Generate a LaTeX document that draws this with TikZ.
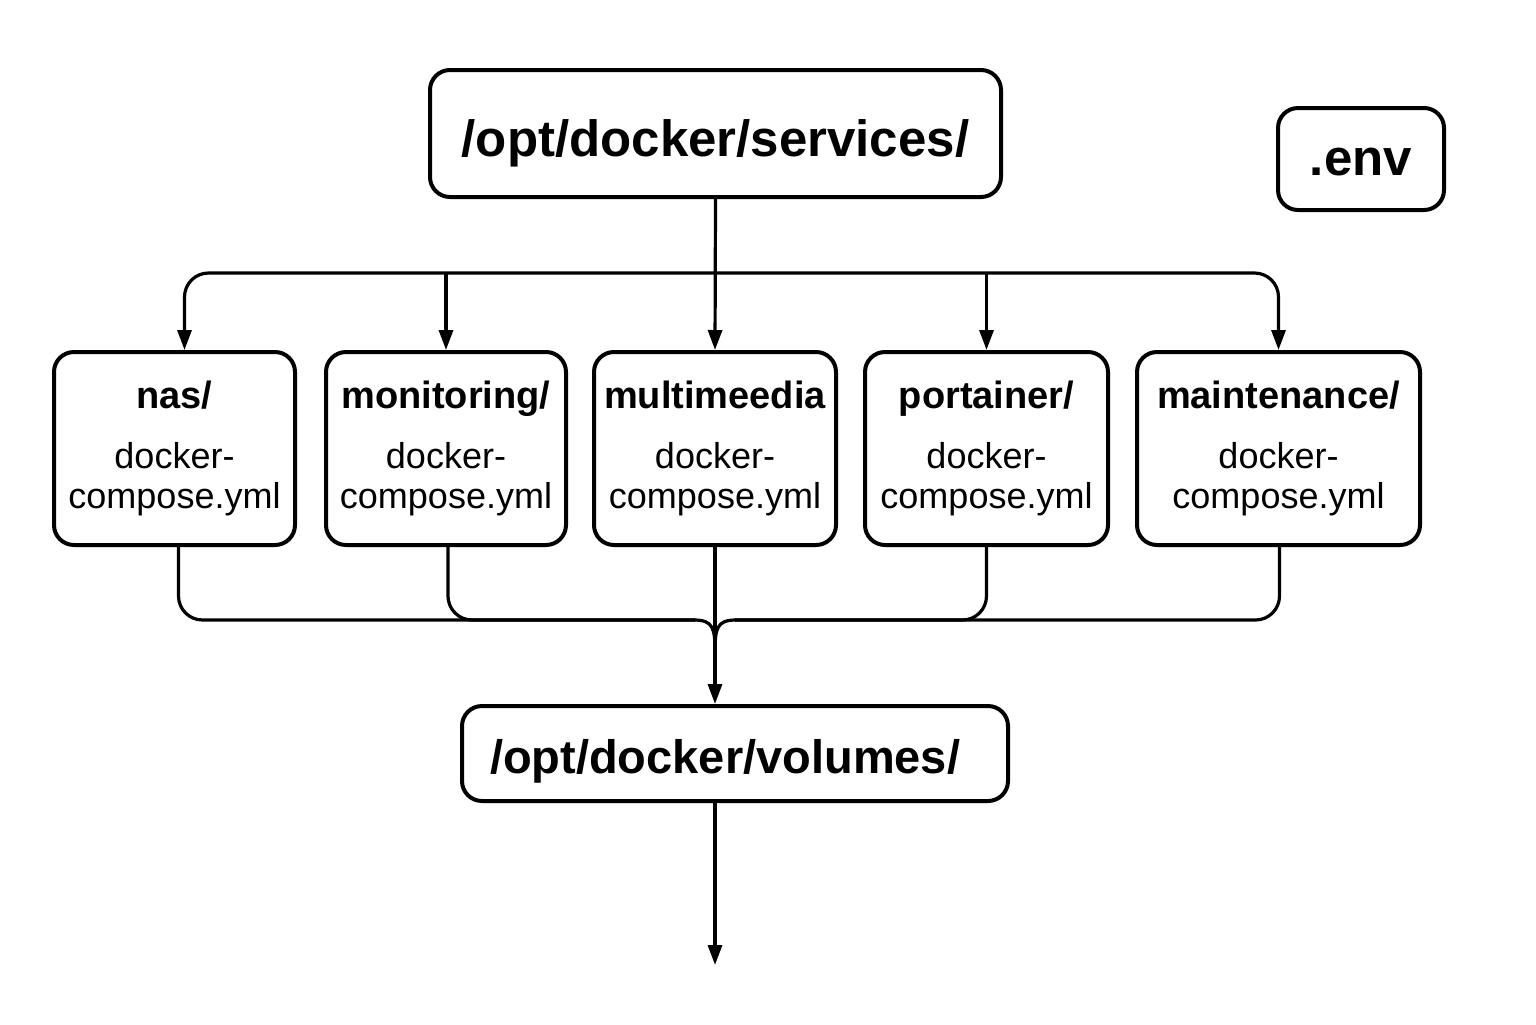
\documentclass[tikz,border=0pt]{standalone}
\usepackage{fontspec}
\setmainfont{Liberation Sans}
\usetikzlibrary{arrows.meta,calc}
\begin{document}
\begin{tikzpicture}[x=0.5pt,y=-0.5pt,
  box/.style={draw,line width=2pt,rounded corners=10pt,align=center,inner sep=0pt},
  kid/.style={box,minimum height=96.5pt,font=\fontsize{18}{20}\selectfont},
  big/.style={font=\fontsize{25.5}{30}\selectfont\bfseries},
  conn/.style={line width=1.6pt},
  arr/.style={conn,-{Triangle[length=10pt,width=7pt]}}]
\useasboundingbox[fill=white] (0,0) rectangle (1536,1024);

\node[box,big,minimum width=285.5pt,minimum height=63.5pt] (svc) at (715.5,133.5) {\raisebox{-2.5pt}[\height][0pt]{/opt/docker/services/}};
\node[box,big,minimum width=83pt,minimum height=51pt] (env) at (1361,159) {\raisebox{-1.5pt}[\height][0pt]{.env}};

\node[kid,minimum width=120.5pt] (nas) at (174.5,448.5) {{\fontsize{19}{22}\selectfont\bfseries nas/}\\[10pt]docker-\\compose.yml};
\node[kid,minimum width=120pt] (mon) at (446,448.5) {{\fontsize{19}{22}\selectfont\bfseries monitoring/}\\[10pt]docker-\\compose.yml};
\node[kid,minimum width=121pt] (mm) at (715,448.5) {{\fontsize{19}{22}\selectfont\bfseries multimeedia}\\[10pt]docker-\\compose.yml};
\node[kid,minimum width=121.5pt] (por) at (986.5,448.5) {{\fontsize{19}{22}\selectfont\bfseries portainer/}\\[10pt]docker-\\compose.yml};
\node[kid,minimum width=141.5pt] (mai) at (1278.5,448.5) {{\fontsize{19}{22}\selectfont\bfseries maintenance/}\\[10pt]docker-\\compose.yml};

\node[box,font=\fontsize{23.5}{28}\selectfont\bfseries,minimum height=47.5pt,text width=245pt,inner xsep=14pt,align=left] (vol) at (735,753.5) {\raisebox{-1.5pt}[\height][0pt]{/opt/docker/volumes/}};

\coordinate (bus) at (715,273);
\coordinate (join) at (715,620);
\coordinate (end) at (715,965);

% top distribution
\draw[arr] (svc.south) -- (mm.north);
\draw[arr,rounded corners=12pt] (bus) -| ([xshift=5pt]nas.north);
\draw[arr,rounded corners=12pt] (bus) -| (mai.north);
\draw[arr] (mon.north |- bus) -- (mon.north);
\draw[arr] (por.north |- bus) -- (por.north);

% bottom collection
\draw[conn,rounded corners=12pt] ([xshift=2pt]nas.south) -- ([xshift=2pt]nas.south |- join) -- ($(join)+(-20,0)$);
\draw[conn,rounded corners=12pt] ([xshift=1pt]mon.south) -- ([xshift=1pt]mon.south |- join) -- ($(join)+(-20,0)$);
\draw[conn,rounded corners=12pt] ([xshift=0.5pt]mai.south) -- ([xshift=0.5pt]mai.south |- join) -- ($(join)+(20,0)$);
\draw[conn,rounded corners=12pt] (por.south) -- (por.south |- join) -- ($(join)+(20,0)$);
\draw[conn] ($(join)+(-21,0)$) .. controls ($(join)+(-2,0)$) and ($(join)+(0,8)$) .. ($(join)+(0,32)$);
\draw[conn] ($(join)+(21,0)$) .. controls ($(join)+(2,0)$) and ($(join)+(0,8)$) .. ($(join)+(0,32)$);
\draw[arr] (mm.south) -- (mm.south |- vol.north);
\draw[arr] (mm.south |- vol.south) -- (end);
\end{tikzpicture}
\end{document}
